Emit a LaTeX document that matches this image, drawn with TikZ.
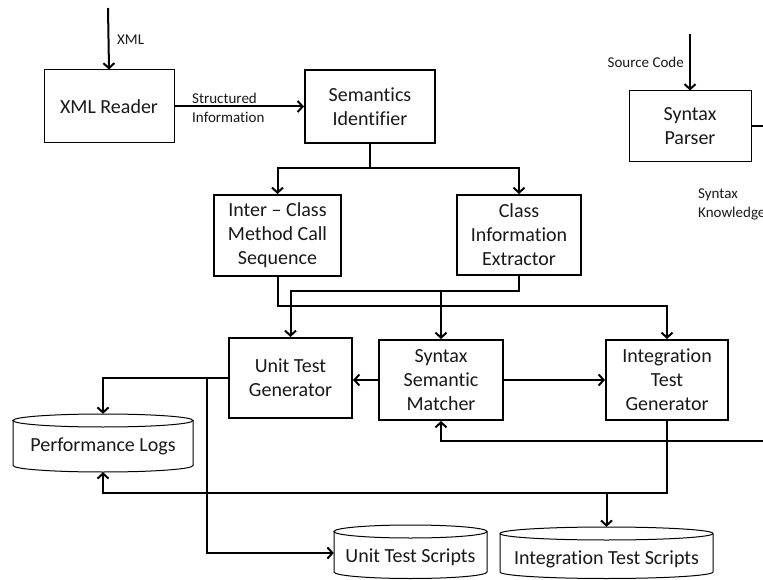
\documentclass[tikz,border=0pt]{standalone}
\usepackage{fontspec}
\setmainfont{Carlito}[Ligatures={NoCommon,NoContextual}]
\usetikzlibrary{arrows.meta}
\newcommand\boxfnt{\fontsize{20}{24}\selectfont}
\newcommand\lblfnt{\fontsize{15}{19}\selectfont}
\newcommand\lowertext[2]{\raisebox{#1}[\height][\depth]{#2}}
\begin{document}
\begin{tikzpicture}[x=1pt,y=-1pt,
  thickbox/.style={draw, line width=2pt, align=center, font=\boxfnt, inner sep=0pt, text=black!90},
  thinbox/.style={draw, line width=1pt, align=center, font=\boxfnt, inner sep=0pt, text=black!90},
  cylnode/.style={align=center, font=\boxfnt, inner sep=0pt, text=black!90},
  cylline/.style={line width=1pt},
  conn/.style={line width=2pt, -{Straight Barb[length=5pt,width=11pt,line width=2pt]}},
  plain/.style={line width=2pt},
  lbl/.style={font=\lblfnt, align=left, inner sep=0pt, text=black!90}
]
\useasboundingbox (0,0) rectangle (763,580);
\begin{scope}
\clip (0,0) rectangle (763,580);
\fill[white] (0,0) rectangle (763,580);

% boxes
\node[thinbox, minimum width=130pt, minimum height=73pt] (xml) at (109,106.5) {XML Reader};
\node[thickbox, minimum width=130pt, minimum height=73pt] (sem) at (370,106.5) {Semantics\\Identifier};
\node[thickbox, minimum width=127pt, minimum height=81pt] (inter) at (277.5,235.5) {Inter -- Class\\Method Call\\Sequence};
\node[thickbox, minimum width=124pt, minimum height=80pt] (cls) at (519,235) {Class\\Information\\Extractor};
\node[thickbox, minimum width=123pt, minimum height=80pt] (utg) at (290.5,378) {Unit Test\\Generator};
\node[thickbox, minimum width=124pt, minimum height=80pt] (stm) at (441,380) {Syntax\\Semantic\\Matcher};
\node[thickbox, minimum width=122pt, minimum height=80pt] (itg) at (667,380) {Integration\\Test\\Generator};
\node[thinbox, minimum width=122pt, minimum height=71pt] (sp) at (690,126.5) {Syntax\\Parser};

% cylinders
\draw[cylline] (103,420.5) ellipse [x radius=90, y radius=6.5];
\draw[cylline] (13,420.5) -- (13,465.5) arc[start angle=180, end angle=0, x radius=90, y radius=6.5] -- (193,420.5);
\node[cylnode, minimum width=180pt, minimum height=58pt] (perf) at (103,443) {\lowertext{-3pt}{Performance Logs}};

\draw[cylline] (410.5,531.5) ellipse [x radius=76.5, y radius=6.5];
\draw[cylline] (334,531.5) -- (334,572) arc[start angle=180, end angle=0, x radius=76.5, y radius=6.5] -- (487,531.5);
\node[cylnode, minimum width=153pt, minimum height=56pt] (uts) at (410.5,553) {\lowertext{-4pt}{Unit Test Scripts}};

\draw[cylline] (606.5,533.5) ellipse [x radius=106.5, y radius=6.5];
\draw[cylline] (500,533.5) -- (500,572) arc[start angle=180, end angle=0, x radius=106.5, y radius=6.5] -- (713,533.5);
\node[cylnode, minimum width=213pt, minimum height=60pt] (its) at (606.5,557) {\lowertext{-2pt}{Integration Test Scripts}};

% free ends and junction levels
\coordinate (xmlin) at (108,8);
\coordinate (scin) at (690,34);
\coordinate (h0) at (0,168);
\coordinate (h1) at (0,291);
\coordinate (h2) at (0,306);
\coordinate (h3) at (0,493);
\coordinate (b1) at (207,0);
\coordinate (r1) at (770,441);
\coordinate (r2) at (770,0);

% connectors
\draw[conn] (xmlin) -- (xml.north);
\node[lbl, anchor=west] (lxml) at (117,40) {XML};
\draw[conn] (xml.east) -- (sem.west);
\node[lbl, anchor=west] (lstruct) at (192,107.5) {Structured\\Information};

\draw[conn] (sem.south) |- (h0 -| inter.north) -- (inter.north);
\draw[conn] (sem.south) |- (h0 -| cls.north) -- (cls.north);

\draw[conn] (cls.south) |- (h1 -| utg.north) -- (utg.north);
\draw[conn] (h1 -| stm.north) -- (stm.north);
\draw[conn] (inter.south) |- (h2 -| itg.north) -- (itg.north);

\draw[conn] (stm.west) -- (stm.west -| utg.east);
\draw[conn] (stm.east) -- (itg.west);

\draw[conn] (utg.west) -| (perf.north);
\draw[conn] (utg.west -| b1) |- (uts.west);

\draw[conn] (itg.south) |- (h3 -| perf.south) -- (perf.south);
\draw[conn] (h3 -| its.north) -- (its.north);

\draw[conn] (r1) -| (stm.south);

\draw[conn] (scin) -- (sp.north);
\node[lbl, anchor=east] (lsrc) at (684,62) {Source Code};
\draw[plain] (sp.east) -- (sp.east -| r2);
\node[lbl, anchor=west] (lsyn) at (698,204) {Syntax\\Knowledge};
\end{scope}
\end{tikzpicture}
\end{document}
